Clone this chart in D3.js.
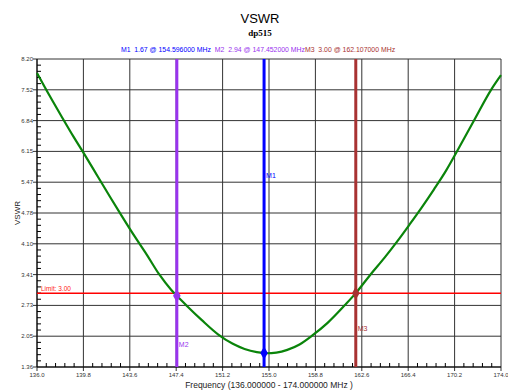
<!DOCTYPE html>
<html><head><meta charset="utf-8">
<script src="https://cdn.jsdelivr.net/npm/d3@7"></script>
<style>body{margin:0;background:#fff}svg{display:block;font-family:"Liberation Sans",Arial,sans-serif}</style>
</head><body>
<svg id="c" width="508" height="392"></svg>
<script>
// ---- data ----
const freq = [136.0,137.0,138.0,139.0,139.8,141.0,142.0,143.0,144.0,145.0,146.0,147.0,147.452,148.3,149.5,150.85,152.0,153.0,154.0,154.8,155.6,156.5,157.5,158.5,159.8,161.2,162.107,163.3,164.5,165.5,166.5,167.5,168.5,169.5,170.4,171.8,173.2,174.0];
const vswr = [7.89,7.40,6.93,6.47,6.12,5.58,5.13,4.69,4.26,3.85,3.42,3.07,2.94,2.71,2.40,2.08,1.88,1.76,1.69,1.665,1.68,1.74,1.86,2.05,2.34,2.73,3.00,3.41,3.80,4.15,4.52,4.90,5.30,5.72,6.15,6.84,7.52,7.84];
const xTickLabels = ["136.0","139.8","143.6","147.4","151.2","155.0","158.8","162.6","166.4","170.2","174.0"];
const yTickLabels = ["1.36","2.05","2.73","3.41","4.10","4.78","5.47","6.15","6.84","7.52","8.20"];
const markerNames = ["M1","M2","M3"];
const markerFreq = [154.596,147.452,162.107];
const markerVal = [1.67,2.94,3.00];
const markerColors = ["#0000ff","#9933ee","#a83232"];
const limitValue = 3.00;

const xMin=136.0,xMax=174.0,yMin=1.36,yMax=8.20;
const L=37,R=501,T=59,B=367;
const svg=d3.select("#c");
const x=d3.scaleLinear().domain([xMin,xMax]).range([L,R]);
const y=d3.scaleLinear().domain([yMin,yMax]).range([B,T]);
const xt=xTickLabels.map((_,i)=>xMin+i*(xMax-xMin)/(xTickLabels.length-1));
const yt=yTickLabels.map((_,i)=>yMin+i*(yMax-yMin)/(yTickLabels.length-1));

// titles
svg.append("text").attr("x",260).attr("y",23).attr("text-anchor","middle").attr("font-size",13).attr("fill","#000").text("VSWR");
svg.append("text").attr("x",260).attr("y",36).attr("text-anchor","middle").attr("font-size",9).attr("font-weight","bold").attr("font-family","Liberation Serif,serif").text("dp515");
const hdr=svg.append("text").attr("x",258).attr("y",52).attr("text-anchor","middle").attr("font-size",6.9);
markerNames.forEach((m,i)=>{
  hdr.append("tspan").attr("fill",markerColors[i]).attr("xml:space","preserve")
    .text(m+"  "+markerVal[i].toFixed(2)+" @ "+markerFreq[i].toFixed(6)+" MHz"+(i===0?"  ":""));
});

// grid
const g=svg.append("g");
g.selectAll(".hg").data(yt).join("line").attr("x1",L-4).attr("x2",R).attr("y1",d=>y(d)).attr("y2",d=>y(d)).attr("stroke","#333").attr("stroke-width",1);
g.selectAll(".vg").data(xt).join("line").attr("y1",T).attr("y2",B+4).attr("x1",d=>x(d)).attr("x2",d=>x(d)).attr("stroke","#333").attr("stroke-width",1);
// minor ticks
const yMinor=[],xMinor=[];
for(let i=0;i<yt.length-1;i++)for(let k=1;k<5;k++)yMinor.push(yt[i]+k*(yt[1]-yt[0])/5);
for(let i=0;i<xt.length-1;i++)for(let k=1;k<5;k++)xMinor.push(xt[i]+k*(xt[1]-xt[0])/5);
g.selectAll(".ym").data(yMinor).join("line").attr("x1",L).attr("x2",L+4).attr("y1",d=>y(d)).attr("y2",d=>y(d)).attr("stroke","#000");
g.selectAll(".xm").data(xMinor).join("line").attr("y1",B).attr("y2",B-4).attr("x1",d=>x(d)).attr("x2",d=>x(d)).attr("stroke","#000");
// axis lines
g.append("line").attr("x1",L).attr("x2",L).attr("y1",T).attr("y2",B).attr("stroke","#000");
g.append("line").attr("x1",L).attr("x2",R).attr("y1",B).attr("y2",B).attr("stroke","#000");
// tick labels
svg.selectAll(".yl").data(yt).join("text").attr("x",L-4).attr("y",d=>y(d)+2).attr("text-anchor","end").attr("font-size",6).attr("fill","#333").text((d,i)=>yTickLabels[i]);
svg.selectAll(".xl").data(xt).join("text").attr("x",d=>x(d)).attr("y",B+10).attr("text-anchor","middle").attr("font-size",6).attr("fill","#333").text((d,i)=>xTickLabels[i]);
// axis titles
svg.append("text").attr("transform","translate(20,213) rotate(-90)").attr("text-anchor","middle").attr("font-size",8).attr("fill","#222").text("VSWR");
svg.append("text").attr("x",269).attr("y",388).attr("text-anchor","middle").attr("font-size",8.5).attr("fill","#222").text("Frequency (136.000000 - 174.000000 MHz )");

// limit
svg.append("line").attr("x1",L).attr("x2",R).attr("y1",y(limitValue)).attr("y2",y(limitValue)).attr("stroke","#ff0000").attr("stroke-width",1.5);
svg.append("text").attr("x",L+4).attr("y",y(limitValue)-2).attr("font-size",6.5).attr("fill","#ff2020").text("Limit: "+limitValue.toFixed(2));

// curve
const pts=freq.map((f,i)=>[f,vswr[i]]);
svg.append("path").datum(pts).attr("fill","none").attr("stroke","#0a840a").attr("stroke-width",2.2)
  .attr("d",d3.line().x(d=>x(d[0])).y(d=>y(d[1])).curve(d3.curveMonotoneX));

// markers
const labelY=[178,347,331];
markerNames.forEach((m,i)=>{
  const mx=x(markerFreq[i]);
  svg.append("line").attr("x1",mx).attr("x2",mx).attr("y1",T).attr("y2",B).attr("stroke",markerColors[i]).attr("stroke-width",3);
  svg.append("path").attr("d",d3.symbol(d3.symbolDiamond,50)()).attr("transform",`translate(${mx},${y(markerVal[i])})`).attr("fill",markerColors[i]);
  svg.append("text").attr("x",mx+2).attr("y",labelY[i]).attr("font-size",7).attr("fill",markerColors[i]).text(m);
});
</script>
</body></html>
